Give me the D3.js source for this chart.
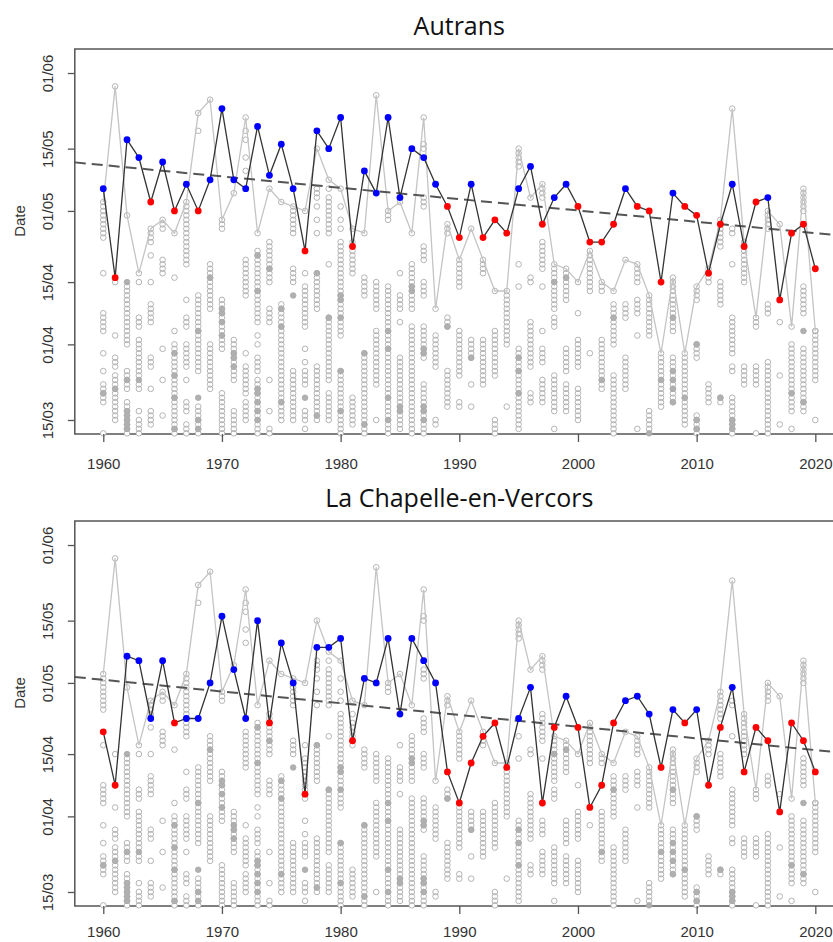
<!DOCTYPE html>
<html>
<head>
<meta charset="utf-8">
<script src="https://cdn.jsdelivr.net/npm/d3@7"></script>
<style>
  body { margin: 0; background: #fff; }
  text { font-family: "Liberation Sans", Arial, sans-serif; }
</style>
</head>
<body>
<div id="container"></div>
<script>
// years on the x axis
const firstYear = 1960
const xTicks = [1960, 1970, 1980, 1990, 2000, 2010, 2020]
// day of year (non leap) for the y ticks
const yTickDays = [74, 91, 105, 121, 135, 152]
const yTickLabels = ['15/03', '01/04', '15/04', '01/05', '15/05', '01/06']

// grey background: days per year, "a-b" = run of days, "d*" = filled circle
const spread = [
  "115-123,107,94-98,89,85,78-82,80*,71",
  "149,105,93,86-88,74-84,81*",
  "120,105*,91-104,81-85,83*,71-78,72*,73*,74*,75*,76*",
  "107,105,95-97,84-92,83*,81-82,76,71-74",
  "114-117,111,105,96-100,86-88,81,73-76",
  "117-119,107-110,90,83,75",
  "116,106,94,71-91,89*,84*,79*,72*",
  "115-123,109-114,101,95-97,86-91,83,76-78,71-73",
  "143,139,85-102,94*,79*,71-77,72*,74*",
  "146,99-109,106*,81-91",
  "117-119,90-101,98*,99*,96*,93*,71-80",
  "125,83-92,89*,88*,86*,71-76",
  "142,139,137,133,130,102-110,89,80-86,74-78",
  "116,96-112,111*,103*,93,91,85-88,76-83,81*,80*,78*,76*,71-75,74*",
  "126,105-114,108*,96-99,83,76,71-72",
  "123,74-100,99*,95*,78*",
  "116-122,105-108,102*,74-85",
  "121,107,95-104,90,87,82-85,79*,74-76,72",
  "135,124-126,122,119,116,99-107,107*,74-86,75*",
  "128,126,116-124,109,83-97,97*,74-80",
  "126,122,119,117,114,93-113,102*,101*,97*,71-85,85*,76*",
  "117,114,112,107-111,73-79",
  "116,102-106,71-89,89*,73*",
  "147,99-105,82-94,74",
  "121,119-120,71-104,94*,90*,79*,74*",
  "123,107,99-102,96,72-88,77*,76*",
  "116,99-109,104*,103*,71-95",
  "142,136,135,122-124,110-113,102-105,88-95,90*,89*,71-82,77*,76*,74*",
  "99,86-93,73-74",
  "118,116-117,95-97,95*,77-85",
  "110,104-109,84-94,77-78",
  "117,88-92,88*,82,77",
  "107-110,82-92",
  "103,84-94,71-74",
  "103,91-102,77",
  "131-135,109,104,72-90,88*,85*,80*",
  "124,105-106,86-96,78-80",
  "124-127,108-114,104,94,87-90,78-83",
  "99-109,105*,95-97,76-84,72",
  "101-108,106*,85-90,76-82",
  "105,98,86-92,74-81",
  "110-112,103-109,89",
  "103-105,81-92,83*",
  "103,91-100,97*,71-84",
  "110,97-100,81-88",
  "105-109,98-101,93,72",
  "93-102,72-76,71*",
  "89,77-88,83*",
  "106,94-105,97*,78-88,85*,83*,81*,78*",
  "89,73-88,79*",
  "101-104,88-91,91*,71-75,74*,72*",
  "105-108,78-82",
  "113-119,100-105,78-79,79*",
  "144,116-117,109,89-97,85-86,71-79,74*,73*,72*",
  "105-114,82-86",
  "95-97,82-86,71",
  "117-121,98-100,71-87",
  "118,96,84,73",
  "95,76-91,80*,72",
  "121-126,98-104,94*,76-90,78*",
  "94,83-94,74"
]

const autransDays = [
  126, 106, 137, 133, 123, 132, 121, 127, 121, 128,
  144, 128, 126, 140, 129, 136, 126, 112, 139, 135,
  142, 113, 130, 125, 142, 124, 135, 133, 127, 122,
  115, 127, 115, 119, 116, 126, 131, 118, 124, 127,
  122, 114, 114, 118, 126, 122, 121, 105, 125, 122,
  120, 107, 118, 127, 113, 123, 124, 101, 116, 118,
  108
]
const autransLate = ('brbbrbrbrb' + 'bbbbbbbrbb' + 'brbbbbbbbr' + 'rbrrrbbrbb' +
  'rrrrbrrrbr' + 'rrrbrrbrrr' + 'r').split('')
const autransTrend = [131.3, 116.0]   // fitted value in 1960 and 2020

const chapelleDays = [
  110, 98, 127, 126, 113, 126, 112, 113, 113, 121,
  136, 124, 113, 135, 112, 130, 121, 96, 129, 129,
  131, 108, 122, 121, 131, 114, 131, 126, 121, 101,
  94, 103, 109, 112, 102, 113, 120, 94, 111, 118,
  111, 93, 98, 112, 117, 118, 114, 102, 115, 112,
  115, 98, 111, 120, 101, 111, 108, 92, 112, 108,
  101
]
const chapelleLate = ('rrbbbbrbbb' + 'bbbbrbbrbb' + 'brbbbbbbbr' + 'rrrrrbbrrb' +
  'rrrrbbbrbr' + 'brrbrrrrrr' + 'r').split('')
const chapelleTrend = [121.7, 105.9]

const specs = { width: 833, height: 942, left: 74.8, right: 843.8, plotH: 385 }

const parseSpread = (s, year) => {
    const pts = []
    s.split(',').forEach(t => {
        if (t.endsWith('*')) { pts.push({ year: year, day: +t.slice(0, -1), filled: true }); return }
        const [a, b] = t.split('-').map(Number)
        const end = b === undefined ? a : b
        for (let d = a; d <= end; d++) pts.push({ year: year, day: d, filled: false })
    })
    return pts
}

const cloud = spread.map((s, i) => parseSpread(s, firstYear + i))
const cloudTop = cloud.map((pts, i) => [firstYear + i, d3.max(pts, p => p.day)])

const svg = d3.select('#container')
    .append('svg').attr('width', specs.width).attr('height', specs.height)

const xScale = d3.scaleLinear().domain([1957.6, 2022.4]).range([specs.left, specs.right])

const drawPanel = (top, title, days, late, trend, labelY) => {
    const yScale = d3.scaleLinear().domain([70.85, 157.4]).range([top + specs.plotH, top])
    const g = svg.append('g')

    g.append('rect')
        .attr('x', specs.left).attr('y', top)
        .attr('width', specs.right - specs.left).attr('height', specs.plotH)
        .attr('fill', 'none').attr('stroke', '#555').attr('stroke-width', 1.5)

    // grey cloud
    g.append('g').selectAll('circle')
        .data(cloud.flat())
        .join('circle')
        .attr('cx', d => xScale(d.year))
        .attr('cy', d => yScale(d.day))
        .attr('r', 2.8)
        .attr('fill', d => d.filled ? '#b0b0b0' : (d.day <= 71 ? '#fff' : 'none'))
        .attr('stroke', '#ababab')
        .attr('stroke-width', 0.9)

    const line = d3.line().x(d => xScale(d[0])).y(d => yScale(d[1]))

    g.append('path')
        .attr('d', line(cloudTop))
        .attr('fill', 'none').attr('stroke', '#c4c4c4').attr('stroke-width', 1.3)

    // trend, extended over the whole box
    const slope = (trend[1] - trend[0]) / 60
    const x0 = xScale.domain()[0], x1 = xScale.domain()[1]
    g.append('path')
        .attr('d', line([[x0, trend[0] + slope * (x0 - 1960)], [x1, trend[0] + slope * (x1 - 1960)]]))
        .attr('fill', 'none').attr('stroke', '#555').attr('stroke-width', 2)
        .attr('stroke-dasharray', '11,6')

    const series = days.map((d, i) => [firstYear + i, d, late[i]])
    g.append('path')
        .attr('d', line(series))
        .attr('fill', 'none').attr('stroke', '#333').attr('stroke-width', 1.3)

    g.append('g').selectAll('circle')
        .data(series)
        .join('circle')
        .attr('cx', d => xScale(d[0]))
        .attr('cy', d => yScale(d[1]))
        .attr('r', 3.4)
        .attr('fill', d => d[2] === 'b' ? '#0000ff' : '#ff0000')

    // axes
    const xAxis = g.append('g')
        .attr('transform', `translate(0,${top + specs.plotH})`)
        .call(d3.axisBottom(xScale).tickValues(xTicks).tickFormat(d3.format('d')).tickSize(8))
    xAxis.select('.domain').remove()
    xAxis.selectAll('line').attr('stroke', '#555').attr('stroke-width', 1.3)
    xAxis.selectAll('text')
        .attr('y', labelY).attr('dy', 0)
        .attr('fill', '#333').style('font-size', '15px')

    const yAxis = g.append('g')
        .attr('transform', `translate(${specs.left},0)`)
        .call(d3.axisLeft(yScale).tickValues(yTickDays).tickFormat((d, i) => yTickLabels[i]).tickSize(7))
    yAxis.select('.domain').remove()
    yAxis.selectAll('line').attr('stroke', '#555').attr('stroke-width', 1.3)
    yAxis.selectAll('text')
        .attr('transform', 'rotate(-90)')
        .attr('x', 0).attr('y', -22).attr('dy', 0)
        .style('text-anchor', 'middle')
        .attr('fill', '#333').style('font-size', '15px')

    g.append('text')
        .attr('transform', `translate(24.5,${top + 172}) rotate(-90)`)
        .attr('text-anchor', 'middle')
        .attr('fill', '#333').style('font-size', '15px')
        .text('Date')

    g.append('text')
        .attr('x', (specs.left + specs.right) / 2).attr('y', top - 14)
        .attr('text-anchor', 'middle')
        .style('font-family', '"Open Sans", sans-serif').style('font-size', '25px')
        .attr('fill', '#111')
        .text(title)
}

drawPanel(49, 'Autrans', autransDays, autransLate, autransTrend, 35)
drawPanel(521, 'La Chapelle-en-Vercors', chapelleDays, chapelleLate, chapelleTrend, 31)
</script>
</body>
</html>
